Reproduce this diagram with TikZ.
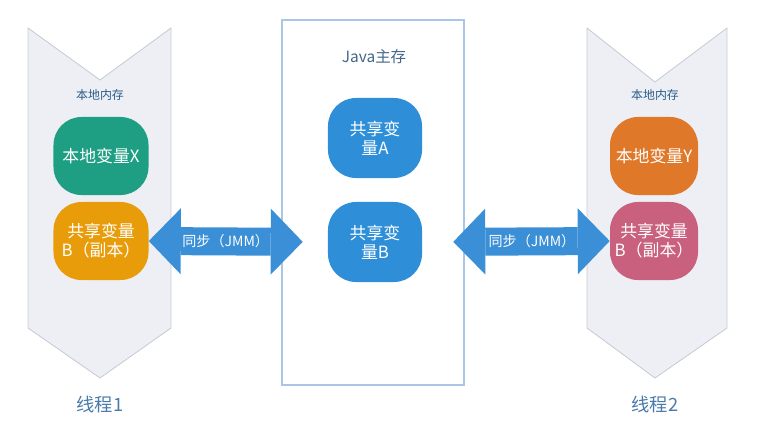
\documentclass[tikz,border=0pt]{standalone}
\usepackage{fontspec}
\newfontfamily\cjk{Noto Sans CJK SC}
\usetikzlibrary{arrows.meta,positioning}

\definecolor{lanefill}{HTML}{EDEFF4}
\definecolor{laneline}{HTML}{C6CBD4}
\definecolor{mainline}{HTML}{A9C6E6}
\definecolor{vargreen}{HTML}{1E9E82}
\definecolor{varorange}{HTML}{E89C0A}
\definecolor{varblue}{HTML}{2E8FD8}
\definecolor{varrust}{HTML}{E0782A}
\definecolor{varpink}{HTML}{C8607E}
\definecolor{syncblue}{HTML}{3A8FD6}
\definecolor{labelblue}{HTML}{2B5C8A}
\definecolor{threadblue}{HTML}{4A7AAA}

\tikzset{
  varbox/.style={rounded corners=0.7cm, minimum width=2.375cm, minimum height=1.95cm,
    text=white, align=center, inner sep=1pt, font=\cjk\fontsize{12}{13.5}\selectfont},
  syncarrow/.style={line width=0.7cm, draw=syncblue,
    {Triangle[width=1.65cm,length=0.8cm,line width=0pt]}-{Triangle[width=1.65cm,length=0.8cm,line width=0pt]}},
  synclabel/.style={text=white, font=\cjk\fontsize{10}{12}\selectfont},
  lane/.style={fill=lanefill, draw=laneline, line width=0.6pt},
}

\begin{document}
\begin{tikzpicture}[x=0.025cm, y=-0.025cm]
  \useasboundingbox (0,0) rectangle (760,435);

  % Thread 1
  \draw[lane] (28,28) -- (100,80) -- (171,28) -- (171,328) -- (100,378) -- (28,328) -- cycle;
  \node[text=labelblue, font=\cjk\fontsize{8.5}{10}\selectfont] (lm1) at (100,95) {本地内存};
  \node[varbox, fill=vargreen] (xA) at (101,156) {本地变量X};
  \node[varbox, fill=varorange] (xB) at (101,241) {共享变量\\B（副本）};
  \node[text=threadblue, font=\cjk\fontsize{13}{15}\selectfont] (t1) at (100,405) {线程1};

  % Main memory
  \draw[mainline, line width=0.8pt] (282,20) rectangle (464,385);
  \node[text=labelblue!70!gray, font=\cjk\fontsize{11}{13}\selectfont] (jm) at (374,57) {Java主存};
  \node[varbox, fill=varblue, minimum width=2.35cm, minimum height=2cm] (mA) at (375,138) {共享变\\量A};
  \node[varbox, fill=varblue, minimum width=2.35cm, minimum height=2cm] (mB) at (375,242) {共享变\\量B};

  % Thread 2
  \draw[lane] (587,28) -- (655,82) -- (727,28) -- (727,328) -- (655,378) -- (587,328) -- cycle;
  \node[text=labelblue, font=\cjk\fontsize{8.5}{10}\selectfont] (lm2) at (655,95) {本地内存};
  \node[varbox, fill=varrust, minimum width=2.2cm] (yA) at (654,156) {本地变量Y};
  \node[varbox, fill=varpink, minimum width=2.2cm] (yB) at (654,241) {共享变量\\B（副本）};
  \node[text=threadblue, font=\cjk\fontsize{13}{15}\selectfont] (t2) at (655,405) {线程2};

  % Sync arrows
  \draw[syncarrow, shorten >=0.625cm] (xB.east) -- (mB.west)
    node[synclabel, pos=0.43] (s1) {同步（JMM）};
  \draw[syncarrow, shorten <=0.775cm] (mB.east) -- (yB.west)
    node[synclabel, pos=0.585] (s2) {同步（JMM）};
\end{tikzpicture}
\end{document}
